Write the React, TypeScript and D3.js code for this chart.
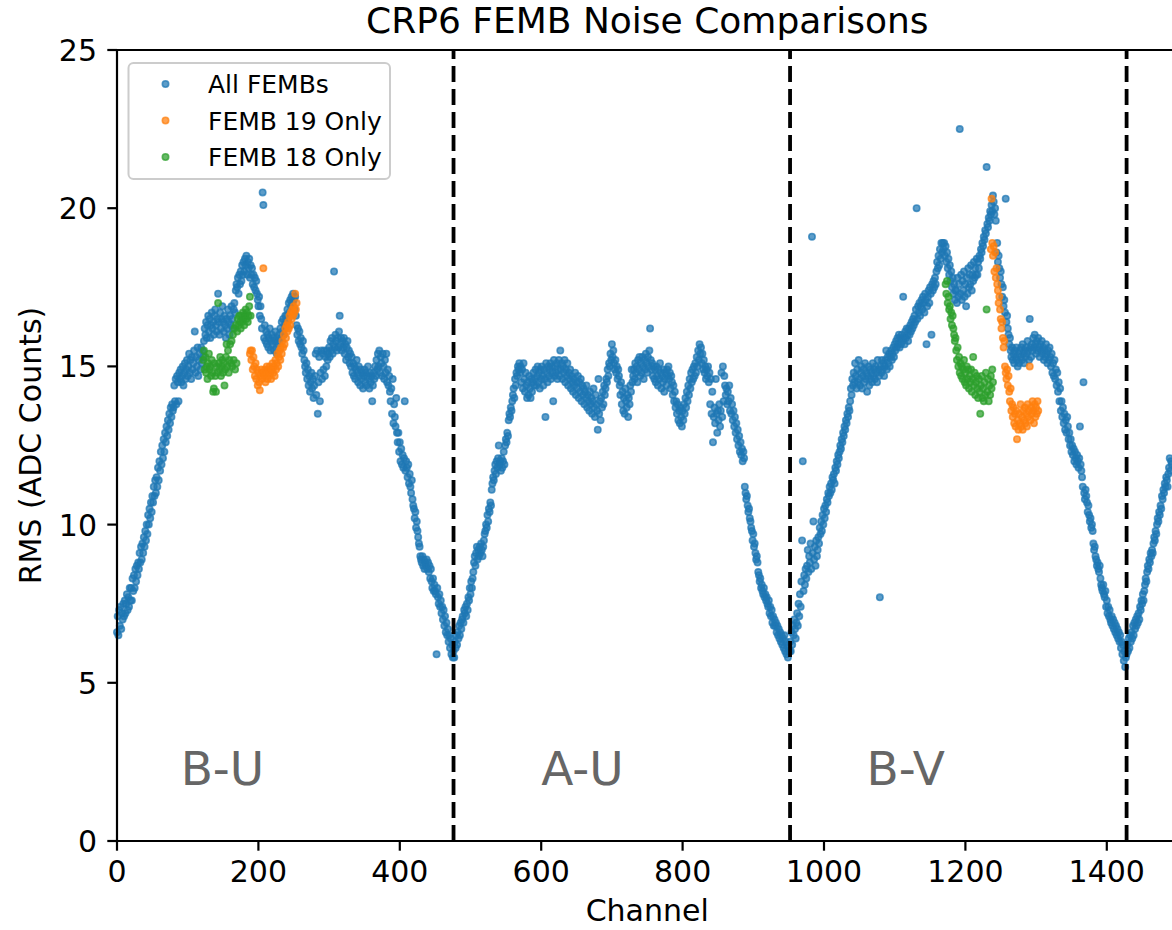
import React from "react";
import * as d3 from "d3";

// ---------------- data ----------------
const xTicks = [0, 200, 400, 600, 800, 1000, 1200, 1400];
const yTicks = [0, 5, 10, 15, 20, 25];
const viewBoundaries = [476, 952, 1428];
const viewLabels = ["B-U", "A-U", "B-V"];
const viewLabelChannels = [90, 600, 1060];
const seriesNames = ["All FEMBs", "FEMB 19 Only", "FEMB 18 Only"];
const seriesColors = ["#1f77b4", "#ff7f0e", "#2ca02c"];

// All FEMBs, view B-U (channels 0..475)
const buStart = 0;
const buRms = [
  6.6, 7.1, 6.5, 7.3, 6.8, 7.4, 6.7, 7.2, 7.0, 7.5,
  7.1, 7.6, 7.2, 7.5, 7.8, 7.3, 7.7, 7.4, 8.0, 7.6,
  8.0, 7.6, 8.3, 7.9, 8.4, 8.0, 8.6, 8.2, 8.7, 8.4,
  8.8, 8.6, 9.1, 8.8, 9.3, 8.9, 9.4, 9.1, 9.6, 9.3,
  9.8, 9.5, 10.0, 9.7, 10.3, 10.0, 10.5, 10.2, 10.7, 10.4,
  10.9, 10.7, 11.2, 10.9, 11.4, 11.0, 11.5, 11.2, 11.8, 11.4,
  12.0, 11.7, 12.3, 11.9, 12.5, 12.1, 12.7, 12.3, 12.9, 12.6,
  13.1, 12.8, 13.3, 13.0, 13.5, 13.2, 13.7, 13.4, 13.8, 13.6,
  13.7, 14.4, 13.9, 14.6, 13.8, 14.7, 14.5, 13.9, 14.8, 14.6,
  14.9, 14.5, 14.7, 15.0, 14.4, 14.8, 15.1, 14.6, 14.9, 15.2,
  14.7, 15.0, 15.4, 14.8, 15.2, 14.6, 15.3, 14.9, 15.1, 15.5,
  16.1, 14.8, 15.3, 15.0, 15.6, 14.7, 15.2, 15.4, 14.9, 15.6,
  15.1, 15.5, 15.3, 15.8, 16.2, 16.0, 16.4, 15.9, 16.3, 16.6,
  16.1, 16.5, 15.9, 16.3, 16.7, 16.2, 16.4, 16.0, 16.6, 16.8,
  16.3, 16.1, 16.5, 17.3, 16.4, 16.0, 16.7, 16.2, 16.5, 16.9,
  16.4, 16.1, 16.6, 16.3, 15.9, 16.5, 16.2, 16.8, 16.4, 16.0,
  16.6, 16.3, 16.9, 16.5, 16.2, 16.8, 17.0, 16.7, 17.4, 17.6,
  17.5, 17.8, 17.3, 17.9, 17.6, 18.0, 17.7, 18.2, 17.9, 18.3,
  18.0, 18.4, 18.2, 18.5, 17.9, 18.3, 18.1, 18.4, 17.8, 18.2,
  17.9, 18.1, 17.6, 17.9, 17.5, 17.8, 17.4, 17.7, 17.3, 17.1,
  16.9, 17.2, 16.6, 16.9, 16.5, 16.2, 20.5, 20.1, 15.9, 16.3,
  15.8, 16.1, 15.7, 16.0, 15.6, 15.9, 16.2, 15.5, 15.8, 16.0,
  15.7, 15.9, 15.5, 15.8, 16.1, 15.6, 15.4, 15.9, 15.7, 16.0,
  15.8, 16.2, 15.9, 16.4, 16.1, 16.5, 16.0, 16.3, 16.6, 16.4,
  16.6, 16.8, 16.5, 17.0, 16.7, 17.1, 16.9, 17.2, 17.0, 17.3,
  17.1, 16.8, 17.2, 16.6, 16.3, 16.0, 16.2, 15.8, 16.1, 15.7,
  15.9, 15.6, 15.4, 15.8, 15.5, 15.2, 15.0, 14.8, 15.1, 14.6,
  14.9, 14.4, 14.7, 14.2, 14.5, 14.8, 14.3, 14.6, 14.0, 14.4,
  14.7, 15.4, 14.1, 15.5, 13.5, 14.5, 15.3, 13.9, 14.8, 15.5,
  14.6, 15.4, 14.9, 15.5, 14.7, 15.3, 15.0, 15.5, 15.2, 15.4,
  15.6, 15.3, 15.8, 15.5, 15.9, 15.4, 15.7, 18.0, 15.6, 16.0,
  15.8, 15.5, 15.9, 15.6, 16.1, 16.6, 15.7, 15.9, 15.5, 15.8,
  15.6, 15.9, 15.4, 15.7, 15.2, 15.6, 15.8, 15.3, 15.5, 15.1,
  15.4, 15.0, 15.3, 14.8, 15.1, 14.7, 15.0, 14.6, 14.9, 15.2,
  14.8, 14.5, 15.0, 14.7, 14.4, 14.9, 14.6, 14.8, 14.3, 14.7,
  14.9, 14.5, 14.8, 14.4, 14.7, 15.0, 14.6, 14.3, 14.8, 14.5,
  14.7, 13.9, 14.4, 14.8, 14.6, 15.0, 14.7, 15.2, 14.9, 15.4,
  15.0, 15.5, 14.8, 15.3, 15.1, 14.7, 15.4, 15.0, 14.6, 15.2,
  14.8, 15.4, 14.5, 14.9, 14.4, 14.7, 14.2, 13.9, 14.3, 13.5,
  14.6, 13.2, 13.8, 13.4, 13.1, 14.0, 12.9, 12.6, 12.9, 12.3,
  12.6, 12.0, 12.4, 11.9, 12.2, 11.8, 12.1, 13.9, 11.7, 12.0,
  11.8, 11.5, 11.9, 11.3, 11.6, 11.2, 11.0, 11.4, 10.8, 10.6,
  10.5, 10.2, 10.4, 9.9, 10.1, 9.8, 9.6, 9.4, 9.3, 9.0,
  8.9, 8.8, 9.0, 8.7, 8.9, 8.6, 8.8, 8.7, 8.9, 8.6,
  8.8, 8.5, 8.7, 8.3, 8.6, 8.2, 8.0, 8.3, 7.9, 8.1,
  7.9, 7.8, 5.9, 8.0, 7.7, 7.5, 7.8, 7.4, 7.6, 7.2,
  7.4, 7.0, 7.3, 6.8, 7.1, 6.6, 6.9, 6.5, 6.7, 6.3,
  6.5, 6.1, 6.4, 5.9, 6.2, 5.8,
];

// All FEMBs, view A-U (channels 476..951)
const auStart = 476;
const auRms = [
  6.0, 5.8, 6.3, 6.1, 6.5, 6.2, 6.6, 6.4, 6.8, 6.5, 6.9, 6.7, 7.0,
  7.1, 6.9, 7.3, 7.2, 7.4, 7.1, 7.5, 7.3,
  7.7, 7.6, 8.0, 7.8, 8.2, 8.0, 8.3, 8.5,
  8.8, 9.0, 8.7, 9.1, 9.3, 8.9, 9.2, 9.0, 9.3, 9.1, 9.4, 9.2, 9.0, 9.3, 9.5, 9.7,
  9.8, 10.0, 9.9, 10.3, 10.1, 10.5, 10.4, 10.7, 10.6, 11.1,
  11.3, 11.5, 11.4, 11.7, 11.9, 11.6, 12.0, 11.8, 12.1, 12.5,
  11.9, 12.0, 11.7, 12.1, 11.8, 12.0, 12.3, 11.9, 12.5, 12.7,
  12.6, 12.9, 12.8, 13.3, 13.5, 13.4, 13.7, 13.6, 13.9, 14.1,
  14.3, 14.0, 14.6, 14.4, 14.8, 14.7, 15.0, 14.9, 15.1, 14.8,
  15.0, 14.5, 14.9, 14.3, 15.1, 14.6, 14.2, 14.8, 14.4, 14.0,
  14.5, 14.1, 14.7, 14.3, 14.0, 14.6, 14.2, 14.5, 14.8, 14.4,
  14.6, 14.9, 14.4, 14.7, 15.0, 14.5, 14.8, 14.3, 14.9, 14.6,
  15.0, 14.7, 14.4, 14.9, 14.6, 13.4, 15.1, 14.8, 14.5, 15.0,
  14.7, 14.9, 15.1, 14.6, 15.0, 14.8, 13.9, 15.2, 14.7, 15.0,
  14.8, 15.1, 14.6, 14.9, 15.2, 14.7, 15.5, 14.9, 15.1, 14.6,
  15.0, 14.8, 15.2, 14.5, 14.9, 14.7, 15.1, 14.4, 14.8, 14.6,
  14.9, 14.3, 14.7, 14.5, 14.2, 14.6, 14.4, 14.8, 14.1, 14.5,
  14.3, 14.7, 14.0, 14.5, 14.2, 14.6, 13.9, 14.4, 14.1, 14.3,
  13.8, 14.2, 14.0, 14.4, 13.7, 14.1, 13.9, 13.6, 14.2, 13.8,
  14.0, 13.5, 13.9, 14.3, 13.7, 13.4, 14.1, 13.8, 13.6, 13.0,
  14.6, 13.5, 13.9, 13.3, 14.0, 13.7, 14.2, 13.8, 14.4, 14.1,
  14.3, 14.6, 14.5, 14.9, 14.7, 15.1, 15.0, 15.4, 15.2, 15.7,
  15.3, 15.5, 15.1, 14.9, 15.2, 14.8, 15.0, 14.6, 14.9, 14.7,
  14.4, 14.1, 14.5, 13.8, 14.2, 13.6, 14.0, 13.5, 14.3, 13.9,
  13.7, 14.1, 13.4, 14.0, 13.8, 14.4, 14.2, 14.9, 14.5, 14.7,
  14.9, 14.6, 15.1, 14.8, 15.0, 14.5, 15.2, 14.9, 15.3, 14.7,
  15.1, 14.8, 15.3, 15.0, 14.6, 15.2, 14.9, 15.4, 15.1, 14.8,
  15.3, 15.0, 15.5, 16.2, 15.2, 14.9, 15.1, 14.7, 15.0, 14.6,
  14.9, 14.5, 15.0, 14.7, 14.4, 14.9, 14.6, 15.1, 14.8, 14.3,
  14.7, 14.5, 14.9, 14.2, 14.6, 14.8, 14.4, 14.9, 14.7, 15.0,
  14.6, 14.8, 14.3, 14.7, 14.5, 14.1, 14.4, 13.9, 14.2, 13.7,
  13.9, 13.5, 13.8, 13.3, 13.6, 13.2, 13.7, 13.4, 13.1, 13.6,
  13.3, 13.8, 13.5, 14.0, 13.7, 14.2, 13.9, 14.4, 14.1, 14.6,
  14.3, 14.8, 14.5, 14.9, 14.6, 15.0, 14.7, 15.1, 14.8, 15.3,
  15.0, 15.5, 15.2, 15.7, 15.4, 15.6, 15.1, 15.4, 14.9, 15.2,
  14.8, 15.0, 14.6, 14.9, 14.7, 15.0, 14.5, 14.8, 13.8, 14.6,
  13.5, 14.2, 12.6, 13.4, 13.7, 13.2, 14.6, 13.5, 12.9, 13.6,
  13.3, 13.8, 13.1, 13.6, 14.8, 13.4, 15.0, 13.9, 14.7, 14.4,
  14.1, 14.3, 13.8, 14.2, 13.9, 14.4, 13.6, 14.0, 13.5, 13.8,
  13.3, 13.6, 13.1, 13.4, 12.9, 13.2, 12.7, 13.0, 12.5, 12.8,
  12.3, 12.6, 12.2, 12.4, 12.0, 12.3, 12.1, 11.2, 11.0, 10.8,
  10.9, 10.6, 10.4, 10.5, 10.2, 10.1, 9.9, 9.8, 9.5, 9.7,
  9.3, 9.4, 9.1, 8.9, 9.0, 8.8, 8.5, 8.4, 8.2, 8.3,
  8.0, 8.1, 7.9, 7.8, 8.0, 7.7, 7.8, 7.6, 7.7, 7.5,
  7.4, 7.6, 7.2, 7.4, 7.1, 7.3, 6.9, 7.1, 6.8, 7.0,
  6.8, 6.9, 6.6, 6.8, 6.5, 6.7, 6.4, 6.6, 6.3, 6.5,
  6.2, 6.4, 6.1, 6.5, 6.0, 6.3, 5.9, 6.2, 5.8, 6.1, 6.0,
];

// All FEMBs, view B-V (channels 952..1427)
const bvStart = 952;
const bvRms = [
  6.3, 6.0, 6.6, 6.2, 6.8, 6.5, 7.0, 6.7, 6.4, 6.9, 7.2, 6.8,
  7.5, 7.1, 7.8, 7.4, 8.2, 9.5, 12.0, 7.9, 8.4, 8.1, 8.6, 8.3,
  8.7, 9.2, 8.5, 9.0, 8.8, 9.4, 8.6, 19.1, 9.1, 10.1, 8.9, 9.3, 8.7, 9.5, 9.0, 9.2,
  9.6, 9.4, 9.9, 9.7, 10.1, 9.8, 10.3, 10.0, 10.5, 10.2, 10.6, 10.4, 10.8, 10.7, 11.0,
  10.9, 11.2, 11.0, 11.3, 11.1, 11.5, 11.4, 11.6, 11.3, 11.8,
  11.7, 12.0, 11.9, 12.2, 12.1, 12.3, 12.5, 12.4, 12.7, 12.6,
  12.9, 12.8, 13.1, 13.0, 13.3, 13.2, 13.5, 13.4, 13.7, 13.6,
  13.9, 14.3, 14.1, 14.6, 14.4, 14.8, 14.5, 15.1, 14.7, 14.3,
  14.9, 14.5, 15.2, 14.6, 14.4, 14.8, 15.0, 14.3, 14.7, 14.9,
  14.5, 15.1, 14.6, 14.8, 14.2, 14.7, 15.0, 14.4, 14.9, 14.6,
  14.8, 14.5, 15.1, 14.7, 14.9, 14.6, 15.0, 14.8, 14.5, 15.2,
  14.9, 14.7, 7.7, 15.0, 14.8, 15.2, 14.9, 15.1, 14.7, 15.0,
  15.2, 15.5, 14.9, 15.3, 15.1, 15.4, 15.0, 15.3, 15.5, 15.2,
  15.4, 15.6, 15.3, 15.7, 15.5, 15.8, 15.6, 15.9, 15.7, 16.0,
  15.6, 15.9, 15.7, 16.0, 15.8, 17.2, 15.9, 15.7, 16.1, 15.9,
  16.2, 16.0, 15.8, 16.2, 16.0, 16.3, 16.1, 16.4, 16.2, 16.5,
  16.3, 16.6, 16.4, 16.8, 20.0, 16.5, 16.9, 16.7, 17.0, 16.6,
  16.9, 17.1, 16.8, 17.2, 17.0, 16.7, 17.3, 17.1, 15.7, 16.9,
  17.2, 17.4, 17.0, 17.5, 17.3, 16.0, 17.6, 17.4, 17.7, 17.5,
  17.8, 17.6, 18.0, 18.3, 18.1, 18.5, 18.2, 18.7, 18.4, 18.9,
  18.6, 18.9, 18.7, 18.9, 18.5, 18.8, 18.3, 18.6, 18.1, 18.4,
  17.9, 18.2, 17.7, 18.0, 17.5, 17.8, 17.3, 17.6, 17.1, 17.4,
  17.4, 17.0, 17.8, 17.2, 17.6, 22.5, 17.3, 17.9, 17.1, 17.7,
  17.4, 18.0, 17.2, 17.6, 16.9, 17.8, 17.3, 18.1, 17.5, 17.9,
  17.6, 18.2, 17.4, 17.9, 17.7, 18.3, 17.8, 18.1, 17.9, 18.4,
  17.9, 18.3, 18.1, 18.5, 18.4, 18.7, 18.6, 18.9, 18.8, 19.1,
  19.0, 19.3, 19.2, 21.3, 19.5, 19.4, 19.7, 19.6, 19.9, 19.8,
  20.1, 19.9, 20.4, 20.2, 19.8, 20.0, 19.6, 18.6, 18.9, 18.3,
  18.5, 18.1, 17.8, 18.0, 17.6, 17.2, 17.5, 16.9, 17.1, 16.7,
  20.3, 16.4, 16.6, 16.2, 16.0, 15.7, 15.9, 15.5, 15.3, 15.6,
  15.2, 15.4, 15.1, 15.5, 15.3, 15.6, 15.2, 15.0, 15.4, 15.1,
  15.5, 15.3, 15.6, 15.2, 15.7, 15.4, 15.1, 15.5, 15.3, 15.6,
  15.4, 15.8, 15.5, 15.2, 16.5, 15.6, 15.3, 15.7, 15.5, 15.9,
  15.6, 16.0, 15.7, 15.4, 15.8, 15.5, 15.9, 15.6, 15.3, 15.7,
  15.5, 15.8, 15.4, 15.6, 15.2, 15.5, 15.3, 15.7, 15.4, 15.1,
  15.5, 15.2, 15.6, 15.3, 15.0, 15.4, 14.8, 15.1, 14.7, 15.2,
  14.6, 14.9, 14.4, 14.8, 14.2, 14.5, 13.9, 14.3, 13.6, 13.9,
  13.4, 13.7, 13.2, 13.5, 13.0, 13.3, 12.9, 13.4, 13.1, 12.7,
  12.9, 12.5, 12.7, 12.3, 12.5, 12.2, 12.4, 12.0, 12.3, 12.1,
  11.9, 12.2, 12.0, 11.8, 12.1, 13.1, 11.9, 11.7, 11.5, 11.2,
  14.5, 11.0, 10.8, 11.1, 10.9, 10.7, 10.4, 10.6, 10.3, 10.1,
  10.2, 9.9, 10.0, 9.8, 9.4, 9.2, 9.3, 9.0, 8.9, 8.7,
  8.8, 8.6, 8.5, 8.7, 8.3, 8.1, 8.0, 7.9, 8.1, 7.8,
  7.7, 7.9, 7.4, 7.6, 7.2, 7.4, 7.1, 7.3, 7.0, 6.9,
  7.1, 6.8, 7.0, 6.7, 6.9, 6.6, 6.8, 6.5, 6.7, 6.4,
  6.6, 6.3, 6.5, 6.1, 6.3, 5.9, 6.2, 5.7, 6.0, 5.5, 5.8,
];

// All FEMBs, view A-V (channels 1428..1492, visible part)
const avStart = 1428;
const avRms = [
  5.9, 6.2, 6.0, 6.4, 6.1, 6.5, 6.3, 6.6, 6.4, 6.8, 6.5, 6.9, 6.7, 7.0, 6.8, 7.1, 6.9,
  7.2, 7.0, 7.4, 7.3, 7.6, 7.5, 7.8, 7.6, 7.9, 8.1, 8.3, 8.2, 8.5, 8.7,
  8.6, 8.9, 8.8, 9.1, 9.0, 9.2, 9.1, 9.4, 9.6, 9.5,
  9.8, 9.7, 10.0, 10.2, 10.1, 10.4, 10.3, 10.6, 10.5, 10.9,
  10.8, 11.1, 11.0, 11.3, 11.2, 11.5, 11.4, 11.2, 11.6, 11.8, 12.1, 11.7, 12.0, 11.9,
];

// FEMB 19 only
const femb19BUStart = 188;
const femb19BU = [
  15.4, 15.5, 15.2, 15.5, 14.9, 15.3, 15.0, 14.7, 15.1, 14.6,
  14.9, 14.4, 14.8, 14.5, 14.25, 14.7, 14.9, 14.6, 14.8, 18.1,
  14.7, 14.9, 14.5, 14.8, 15.0, 14.6, 14.9, 14.7, 15.0, 14.8,
  14.6, 14.9, 15.1, 14.8, 15.0, 14.7, 15.2, 14.9, 15.1, 15.4,
  15.0, 15.3, 15.5, 15.2, 15.6, 15.4, 15.8, 15.6, 16.0, 15.7,
  16.2, 15.9, 16.3, 16.1, 16.4, 16.2, 16.6, 16.3, 16.7, 16.5,
  16.8, 16.6, 16.9, 16.7, 17.3, 16.8, 17.0,
];
const femb19BVStart = 1236;
const femb19BV = [
  18.7, 20.3, 18.9, 18.5, 18.8, 18.0, 18.6, 17.8, 18.1, 17.6,
  17.4, 17.0, 17.2, 16.8, 16.5, 16.2, 16.4, 15.9, 15.6, 15.8,
  15.0, 14.8, 14.6, 14.9, 14.4, 14.7, 14.2, 13.9, 14.3, 13.6,
  13.8, 13.4, 13.7, 13.2, 13.5, 13.1, 13.6, 12.7, 13.3, 13.0,
  13.5, 13.2, 13.8, 13.1, 13.4, 13.0, 13.6, 13.3, 13.7, 13.2,
  13.5, 13.1, 13.8, 13.4, 13.6, 15.0, 13.3, 13.7, 13.5, 13.9,
  13.6, 13.2, 13.8, 13.4, 13.7, 13.5, 13.9, 13.6,
];

// FEMB 18 only
const femb18BUStart = 122;
const femb18BU = [
  15.2, 15.5, 14.9, 15.3, 14.8, 15.0, 14.6, 15.1, 15.4, 14.9,
  15.0, 14.7, 15.2, 14.8, 14.2, 14.3, 15.1, 14.7, 14.2, 15.0,
  14.8, 17.0, 15.1, 14.9, 15.3, 14.7, 15.0, 15.2, 14.8, 15.1,
  14.4, 14.9, 15.3, 15.7, 15.0, 15.5, 14.8, 15.2, 15.7, 15.1,
  15.8, 15.0, 16.0, 15.2, 16.2, 14.9, 16.3, 15.1, 16.1, 16.5,
  16.3, 16.6, 16.4, 16.2, 16.6, 16.4, 16.7, 16.5, 16.3, 16.6,
  16.8, 16.5, 16.7, 16.4, 16.6, 16.9, 17.2, 16.6,
];
const femb18BVStart = 1172;
const femb18BV = [
  17.6, 17.3, 17.7, 17.0, 17.2, 16.8, 16.9, 16.5, 16.7, 16.3,
  16.6, 16.2, 16.0, 15.8, 15.9, 15.5, 15.2, 15.6, 15.0, 15.3,
  14.8, 15.1, 14.7, 15.0, 14.6, 14.9, 15.2, 14.5, 14.8, 14.4,
  15.0, 14.6, 14.9, 14.3, 14.7, 14.5, 14.9, 14.2, 14.6, 15.3,
  14.4, 14.8, 14.1, 14.5, 14.7, 14.3, 14.0, 14.6, 14.2, 13.5,
  14.4, 14.7, 14.0, 14.3, 13.9, 14.5, 14.1, 14.8, 16.8, 14.2,
  14.6, 13.9, 14.4, 14.1, 14.7, 14.3, 14.9, 14.5,
];

// ---------------- chart ----------------
type Pt = { ch: number; v: number };
const expand = (start: number, vals: number[]): Pt[] =>
  vals.map((v, i) => ({ ch: start + i, v }));

const W = 1172;
const H = 930;
const left = 117;
const top = 50;
const bottom = 841;
const pxPerChannel = 0.707;
const xMax = 1500;

const x = d3.scaleLinear().domain([0, xMax]).range([left, left + xMax * pxPerChannel]);
const y = d3.scaleLinear().domain([0, 25]).range([bottom, top]);

const allPts: Pt[] = [
  ...expand(buStart, buRms),
  ...expand(auStart, auRms),
  ...expand(bvStart, bvRms),
  ...expand(avStart, avRms),
];
const f19Pts: Pt[] = [...expand(femb19BUStart, femb19BU), ...expand(femb19BVStart, femb19BV)];
const f18Pts: Pt[] = [...expand(femb18BUStart, femb18BU), ...expand(femb18BVStart, femb18BV)];
const series = [allPts, f19Pts, f18Pts];

const FONT = "'DejaVu Sans', sans-serif";
const R = 3.2;
const ALPHA = 0.72;

export default function App() {
  const right = x(xMax);
  const titleX = (left + right) / 2;
  return (
    <svg
      width={W}
      height={H}
      style={{ position: "absolute", left: 0, top: 0, background: "#fff" }}
      fontFamily={FONT}
    >
      <rect x={0} y={0} width={W} height={H} fill="#fff" />
      {/* points */}
      {series.map((pts, si) => (
        <g key={si}>
          {pts.map((p, i) => (
            <circle
              key={i}
              cx={x(p.ch)}
              cy={y(p.v)}
              r={R}
              fill={seriesColors[si]}
              fillOpacity={ALPHA}
              stroke={seriesColors[si]}
              strokeOpacity={ALPHA}
              strokeWidth={1.6}
            />
          ))}
        </g>
      ))}
      {/* view boundaries */}
      {viewBoundaries.map((b) => (
        <line
          key={b}
          x1={x(b)}
          x2={x(b)}
          y1={bottom}
          y2={top}
          stroke="#000"
          strokeWidth={3.8}
          strokeDasharray="16 7"
        />
      ))}
      {/* view labels */}
      {viewLabels.map((t, i) => (
        <text
          key={t}
          x={x(viewLabelChannels[i])}
          y={y(1.77)}
          fontSize={47}
          fill="#666"
        >
          {t}
        </text>
      ))}
      {/* spines */}
      <line x1={left} x2={left} y1={top} y2={bottom} stroke="#000" strokeWidth={2.2} />
      <line x1={left} x2={W + 10} y1={bottom} y2={bottom} stroke="#000" strokeWidth={2.2} />
      <line x1={left} x2={W + 10} y1={top} y2={top} stroke="#000" strokeWidth={2.2} />
      {/* x ticks */}
      {xTicks.map((t) => (
        <g key={t}>
          <line x1={x(t)} x2={x(t)} y1={bottom} y2={bottom + 9.7} stroke="#000" strokeWidth={2.2} />
          <text x={x(t)} y={882} fontSize={30} textAnchor="middle" fill="#000">
            {t}
          </text>
        </g>
      ))}
      {/* y ticks */}
      {yTicks.map((t) => (
        <g key={t}>
          <line x1={left - 9.7} x2={left} y1={y(t)} y2={y(t)} stroke="#000" strokeWidth={2.2} />
          <text x={97} y={y(t) + 11} fontSize={30} textAnchor="end" fill="#000">
            {t}
          </text>
        </g>
      ))}
      {/* axis labels */}
      <text x={titleX} y={921} fontSize={30} textAnchor="middle" fill="#000">
        Channel
      </text>
      <text
        transform={`translate(41, ${(top + bottom) / 2}) rotate(-90)`}
        fontSize={30}
        textAnchor="middle"
        fill="#000"
      >
        RMS (ADC Counts)
      </text>
      {/* title */}
      <text x={titleX} y={33} fontSize={36} textAnchor="middle" fill="#000">
        CRP6 FEMB Noise Comparisons
      </text>
      {/* legend */}
      <g>
        <rect
          x={128.5}
          y={63}
          width={261.5}
          height={116}
          rx={5}
          fill="#fff"
          fillOpacity={0.8}
          stroke="#cccccc"
          strokeWidth={2}
        />
        {seriesNames.map((n, i) => (
          <g key={n}>
            <circle
              cx={165.5}
              cy={84 + i * 36.5}
              r={R}
              fill={seriesColors[i]}
              fillOpacity={ALPHA}
              stroke={seriesColors[i]}
              strokeOpacity={ALPHA}
              strokeWidth={1.6}
            />
            <text x={208} y={84 + i * 36.5 + 9} fontSize={25} fill="#000">
              {n}
            </text>
          </g>
        ))}
      </g>
    </svg>
  );
}
